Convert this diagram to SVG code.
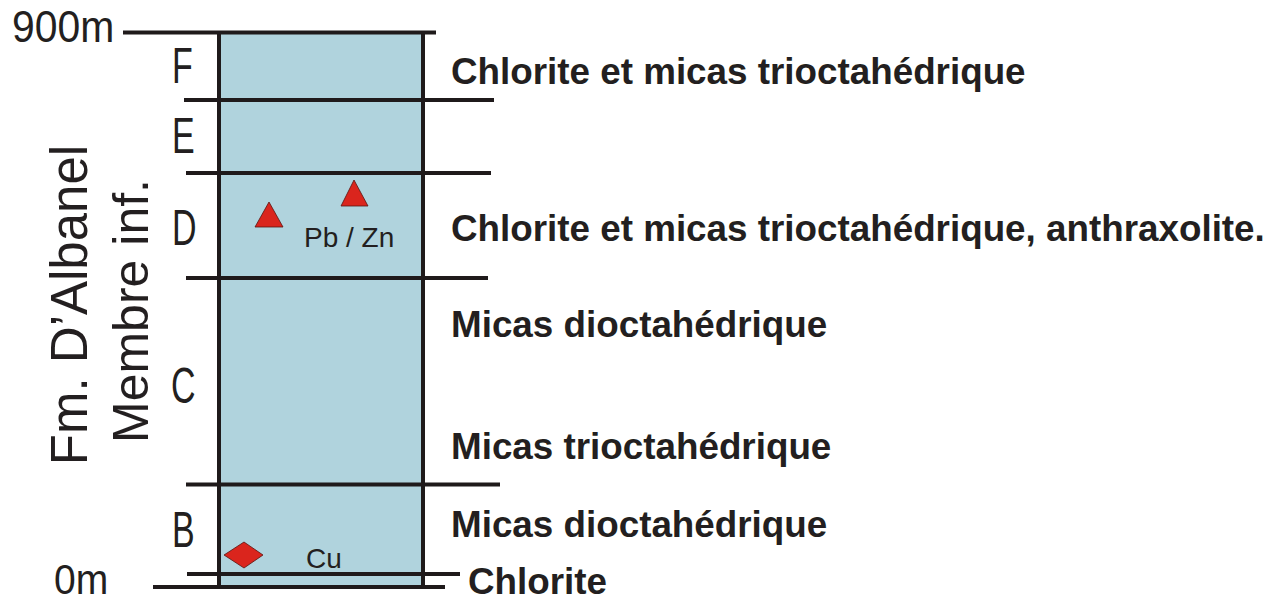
<svg xmlns="http://www.w3.org/2000/svg" width="1278" height="601" viewBox="0 0 1278 601">
<style>
.ln{stroke:#1f1a1b;stroke-width:4;fill:none}
.lbl{font-family:"Liberation Sans",Arial,sans-serif;font-weight:bold;font-size:36.8px;fill:#231f20}
.thin{font-family:"Liberation Sans",Arial,sans-serif;fill:#231f20}
.small{font-family:"Liberation Sans",Arial,sans-serif;font-size:28px;fill:#231f20}
.mk{fill:#da251d;stroke:#5a1410;stroke-width:0.8}
</style>
<rect width="1278" height="601" fill="#ffffff"/>
<g id="column">
<rect x="219" y="32" width="204" height="555" fill="#b0d3dd"/>
</g>
<g id="connectors">
<line class="ln" x1="219" y1="31" x2="219" y2="588"/>
<line class="ln" x1="423" y1="31" x2="423" y2="588"/>
<line class="ln" x1="123" y1="32.5" x2="436" y2="32.5"/>
<line class="ln" x1="184" y1="100" x2="494" y2="100"/>
<line class="ln" x1="186" y1="173" x2="491" y2="173"/>
<line class="ln" x1="186" y1="278" x2="488" y2="278"/>
<line class="ln" x1="186" y1="484.5" x2="500" y2="484.5"/>
<line class="ln" x1="187" y1="574" x2="460" y2="574"/>
<line class="ln" x1="153" y1="587" x2="445" y2="587"/>
</g>
<g id="scale">
<text class="thin" font-size="44" transform="translate(12,42) scale(0.93,1)">900m</text>
<text class="thin" font-size="42" transform="translate(54,594) scale(0.93,1)">0m</text>
</g>
<g id="formation">
<text class="thin" font-size="51" text-anchor="middle" transform="translate(87,305) rotate(-90)">Fm. D’Albanel</text>
<text class="thin" font-size="50" text-anchor="middle" transform="translate(148,311) rotate(-90)">Membre inf.</text>
</g>
<g id="layer-F">
<text class="thin" font-size="50" transform="translate(172,83) scale(0.68,1)">F</text>
<text class="lbl" x="451" y="84">Chlorite et micas trioctahédrique</text>
</g>
<g id="layer-E">
<text class="thin" font-size="50" transform="translate(172,153) scale(0.68,1)">E</text>
</g>
<g id="layer-D">
<text class="thin" font-size="50" transform="translate(172,245) scale(0.68,1)">D</text>
<text class="lbl" x="451" y="241">Chlorite et micas trioctahédrique, anthraxolite.</text>
<polygon class="mk" points="269,202 283,227 255,227"/>
<polygon class="mk" points="354,180 368,206 341,206"/>
<text class="small" x="304" y="247">Pb / Zn</text>
</g>
<g id="layer-C">
<text class="thin" font-size="50" transform="translate(171,403) scale(0.68,1)">C</text>
<text class="lbl" x="451" y="337">Micas dioctahédrique</text>
<text class="lbl" x="451" y="459">Micas trioctahédrique</text>
</g>
<g id="layer-B">
<text class="thin" font-size="50" transform="translate(172,547) scale(0.68,1)">B</text>
<text class="lbl" x="451" y="537">Micas dioctahédrique</text>
<polygon class="mk" points="224,555 244,542 263,555 244,568"/>
<text class="small" x="306" y="568">Cu</text>
</g>
<g id="layer-base">
<text class="lbl" x="468" y="594">Chlorite</text>
</g>
</svg>
